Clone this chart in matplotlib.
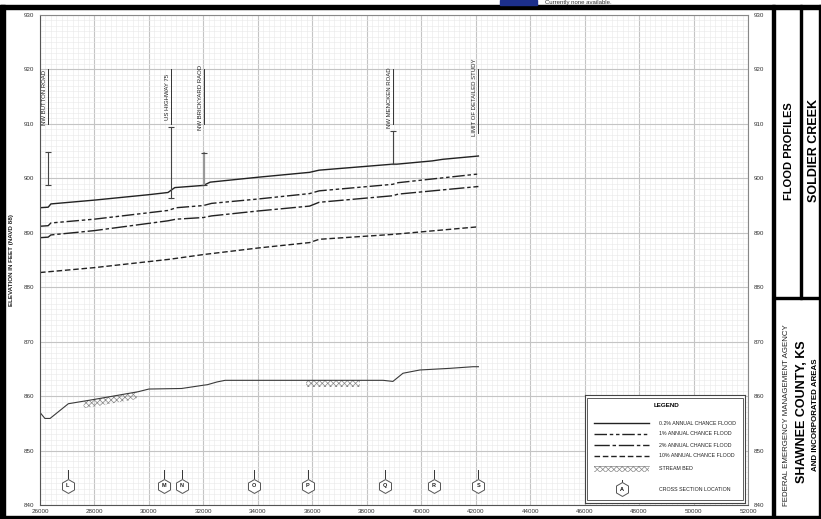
import numpy as np
import matplotlib.pyplot as plt
from matplotlib.patches import Rectangle

plt.rcParams['font.family'] = ['Liberation Sans', 'DejaVu Sans']
plt.rcParams['hatch.linewidth'] = 0.5

# === DATA (stream station in feet, elevation in feet NAVD 88) ===
sta_02 = [26000, 26300, 26400, 28000, 30000, 30700, 30950, 32000, 32250, 34000,
          35900, 36250, 38950, 39100, 40400, 40800, 42100]
elev_02 = [894.6, 894.7, 895.3, 896.0, 897.0, 897.4, 898.3, 898.7, 899.3, 900.2,
           901.1, 901.5, 902.6, 902.6, 903.2, 903.5, 904.1]

sta_1 = [26000, 26300, 26400, 28000, 30700, 31000, 32000, 32300, 34000, 35900,
         36250, 38950, 39150, 42100]
elev_1 = [891.2, 891.3, 891.8, 892.5, 894.1, 894.6, 895.0, 895.4, 896.2, 897.2,
          897.7, 898.9, 899.2, 900.8]

sta_2 = [26000, 26300, 26400, 28000, 30700, 31000, 32000, 32300, 34000, 35900,
         36250, 38950, 39150, 42100]
elev_2 = [889.1, 889.2, 889.6, 890.4, 892.2, 892.5, 892.8, 893.1, 894.0, 894.9,
          895.6, 896.8, 897.1, 898.5]

sta_10 = [26000, 28000, 30700, 31000, 32000, 34000, 35900, 36250, 38950, 42100]
elev_10 = [882.7, 883.6, 885.1, 885.3, 886.0, 887.2, 888.2, 888.8, 889.7, 891.1]

sta_bed = [26000, 26180, 26370, 27040, 28000, 29600, 30000, 31200, 31600, 32000,
           32150, 32500, 32800, 34000, 38600, 38960, 39330, 39950, 41050, 41900, 42100]
elev_bed = [857.0, 855.9, 855.9, 858.6, 859.4, 860.8, 861.3, 861.4, 861.7, 862.0,
            862.1, 862.6, 862.9, 862.9, 862.9, 862.7, 864.2, 864.8, 865.1, 865.4, 865.4]

# hatched stream bed segments (start, end station)
bed_hatch = [(27600, 29550), (35750, 37750)]

# bridges: station, top of deck, low chord
bridge_sta = [26300, 30800, 32020, 38965]
bridge_top = [904.9, 909.5, 904.6, 908.7]
bridge_low = [898.8, 896.3, 898.7, 902.6]

# road / limit labels
label_names = ['NW BUTTON ROAD', 'US HIGHWAY 75', 'NW BRICKYARD RAOD',
               'NW MENCKEN ROAD', 'LIMIT OF DETAILED STUDY']
label_sta = [26300, 30800, 32020, 38965, 42100]
label_low = [910, 910, 910, 910, 908.3]

# cross sections
xs_letters = ['L', 'M', 'N', 'O', 'P', 'Q', 'R', 'S']
xs_sta = [27020, 30550, 31200, 33850, 35825, 38680, 40460, 42100]

LINE_COLOR = '#222222'
STYLES = {
    '0.2%': dict(ls='-'),
    '1%': dict(dashes=(9, 2, 2.5, 2, 2.5, 2)),
    '2%': dict(dashes=(11, 2, 2.5, 2)),
    '10%': dict(dashes=(4, 2)),
}

# === FIGURE ===
fig = plt.figure(figsize=(8.21, 5.19), dpi=100)
W, H = 821, 519


def fx(px):
    return px / W


def fy(py):
    return 1 - py / H


ax = fig.add_axes([fx(40), fy(505), fx(748) - fx(40), fy(15) - fy(505)])
ax.set_xlim(26000, 52000)
ax.set_ylim(840, 930)
ax.set_xticks(np.arange(26000, 52001, 2000))
ax.set_xticks(np.arange(26000, 52001, 200), minor=True)
ax.set_yticks(np.arange(840, 931, 10))
ax.set_yticks(np.arange(840, 931, 1), minor=True)
ax.grid(which='major', color='#c4c4c4', lw=0.8)
ax.grid(which='minor', color='#e8e8e8', lw=0.4)
ax.set_axisbelow(True)
ax.tick_params(which='both', length=0)
ax.tick_params(axis='y', labelsize=4.5, labelcolor='#333333', pad=4,
               labelleft=True, labelright=True)
ax.tick_params(axis='x', labelsize=4.5, labelcolor='#333333', pad=3)
for sp in ax.spines.values():
    sp.set_color('#888888')
    sp.set_linewidth(0.8)
ax.spines['left'].set_color('#555555')
ax.spines['bottom'].set_color('#555555')

# profiles
ax.plot(sta_02, elev_02, color=LINE_COLOR, lw=1.0, **STYLES['0.2%'])
ax.plot(sta_1, elev_1, color=LINE_COLOR, lw=1.0, **STYLES['1%'])
ax.plot(sta_2, elev_2, color=LINE_COLOR, lw=1.0, **STYLES['2%'])
ax.plot(sta_10, elev_10, color=LINE_COLOR, lw=1.0, **STYLES['10%'])

# stream bed
ax.plot(sta_bed, elev_bed, color='#3a3a3a', lw=0.8)
for s0, s1 in bed_hatch:
    xx = np.linspace(s0, s1, 30)
    yy = np.interp(xx, sta_bed, elev_bed)
    ax.fill_between(xx, yy - 1.3, yy, facecolor='none', edgecolor='#888888',
                    hatch='xxxxxx', lw=0)

# bridges
for s, top, low in zip(bridge_sta, bridge_top, bridge_low):
    c = '#999999' if s == 32020 else '#444444'
    ax.plot([s, s], [low, top], color=c, lw=1.6 if s == 32020 else 0.8)
    ax.plot([s, s], [low, top], ls='none', marker='_', ms=4, mew=0.8, color='#444444')

# road labels
for name, s, low in zip(label_names, label_sta, label_low):
    ax.plot([s, s], [low, 920], color='#333333', lw=0.7)
    ax.text(s - 35, 914.9, name, rotation=90, ha='right', va='center',
            fontsize=4.3, color='#222222')

# cross section hexagons
for letter, s in zip(xs_letters, xs_sta):
    ax.plot([s, s], [845.0, 846.4], color='#333333', lw=0.7)
    ax.plot(s, 843.5, marker='h', ms=10, mfc='white', mec='#555555', mew=0.7)
    ax.text(s, 843.5, letter, ha='center', va='center', fontsize=4,
            fontweight='bold', color='#222222')

# === LEGEND (drawn box) ===
lg = fig.add_axes([fx(585), fy(503), fx(745) - fx(585), fy(395) - fy(503)])
lg.set_xlim(0, 1)
lg.set_ylim(0, 1)
lg.set_xticks([])
lg.set_yticks([])
for sp in lg.spines.values():
    sp.set_color('#444444')
    sp.set_linewidth(0.8)
lg.add_patch(Rectangle((0.015, 0.025), 0.97, 0.95, fill=False, ec='#444444', lw=0.6))
lg.text(0.51, 0.905, 'LEGEND', ha='center', va='center', fontsize=4.5, fontweight='bold')

legend_rows = [('0.2%', '0.2% ANNUAL CHANCE FLOOD', 0.737),
               ('1%', '1% ANNUAL CHANCE FLOOD', 0.641),
               ('2%', '2% ANNUAL CHANCE FLOOD', 0.537),
               ('10%', '10% ANNUAL CHANCE FLOOD', 0.438)]
for key, txt, yv in legend_rows:
    lg.plot([0.056, 0.40], [yv, yv], color=LINE_COLOR, lw=1.0, **STYLES[key])
    lg.text(0.4625, yv, txt, va='center', fontsize=3.8, color='#222222')

lg.add_patch(Rectangle((0.056, 0.29), 0.344, 0.05, facecolor='none',
                       edgecolor='#888888', hatch='xxxxxx', lw=0))
lg.plot([0.056, 0.40], [0.34, 0.34], color='#888888', lw=0.5)
lg.text(0.4625, 0.315, 'STREAM BED', va='center', fontsize=3.8, color='#222222')

lg.plot([0.229, 0.229], [0.175, 0.215], color='#333333', lw=0.7)
lg.plot(0.229, 0.127, marker='h', ms=10, mfc='white', mec='#555555', mew=0.7)
lg.text(0.229, 0.127, 'A', ha='center', va='center', fontsize=4, fontweight='bold')
lg.text(0.4625, 0.127, 'CROSS SECTION LOCATION', va='center', fontsize=3.8,
        color='#222222')

# === PAGE TEXT / FRAME ===
fig.text(fx(12), fy(260), 'ELEVATION IN FEET (NAVD 88)', rotation=90,
         ha='center', va='center', fontsize=4.5, fontweight='bold', color='#222222')

fig.text(fx(789), fy(151), 'FLOOD PROFILES', rotation=90, ha='center', va='center',
         fontsize=8, fontweight='bold')
fig.text(fx(814), fy(151), 'SOLDIER CREEK', rotation=90, ha='center', va='center',
         fontsize=9, fontweight='bold')
fig.text(fx(786), fy(415), 'FEDERAL EMERGENCY MANAGEMENT AGENCY', rotation=90,
         ha='center', va='center', fontsize=5.7, color='#222222')
fig.text(fx(802), fy(412), 'SHAWNEE COUNTY, KS', rotation=90, ha='center',
         va='center', fontsize=9, fontweight='bold')
fig.text(fx(815), fy(415), 'AND INCORPORATED AREAS', rotation=90, ha='center',
         va='center', fontsize=5.7, fontweight='bold')

frame = [
    (0, 5, W, 4),        # top bar
    (0, 5, 5, H - 5),    # left strip
    (0, 516, W, 3),      # bottom strip
    (819, 5, 2, H - 5),  # right strip
    (772, 5, 3, H - 5),  # title block divider
    (775, 297, 46, 2),   # title block horizontal
    (800, 5, 1.5, 294),  # title block inner divider
]
for x0, y0, w, h in frame:
    fig.patches.append(Rectangle((fx(x0), fy(y0 + h)), w / W, h / H,
                                 transform=fig.transFigure, color='black'))

# viewer banner remnant at the very top
fig.patches.append(Rectangle((fx(500), fy(5)), 37 / W, 5 / H,
                             transform=fig.transFigure, color='#1c2f8c'))
fig.text(fx(545), fy(0.3), 'Currently none available.', ha='left', va='top',
         fontsize=4.3, color='#333333')

fig.savefig('out.png', dpi=100)
